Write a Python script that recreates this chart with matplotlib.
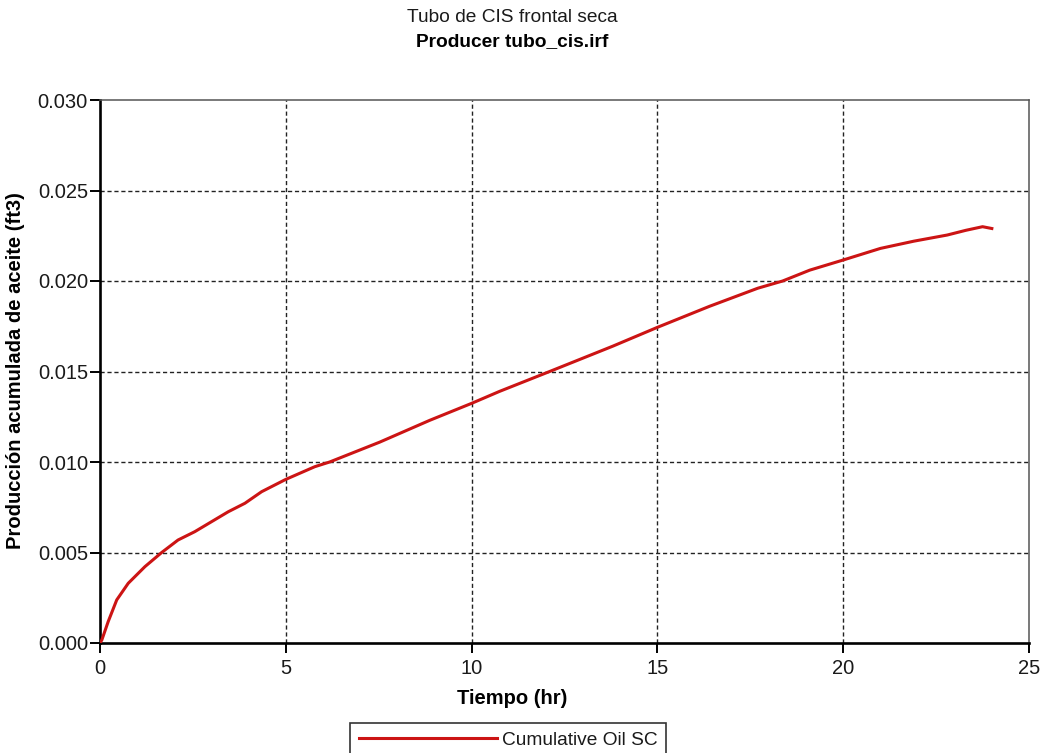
import matplotlib
matplotlib.use("Agg")
import matplotlib.pyplot as plt
import numpy as np

plt.rcParams['font.family'] = ['Liberation Sans', 'DejaVu Sans']

# Cumulative oil production vs. time
tiempo_hr = [0, 0.05, 0.22, 0.45, 0.76, 1.21, 1.66, 2.10, 2.55, 3.0, 3.45, 3.9,
             4.35, 5.0, 5.78, 6.18, 7.53, 8.87, 10.0, 10.75, 12.1, 13.8, 15.0,
             16.4, 17.7, 18.37, 19.1, 20.0, 21.0, 21.9, 22.8, 23.3, 23.75, 24.0]
cum_oil_ft3 = [0, 0.00017, 0.00118, 0.00238, 0.0033, 0.00422, 0.0050, 0.00569,
               0.00615, 0.0067, 0.00725, 0.00772, 0.00836, 0.00904, 0.00974,
               0.0100, 0.0111, 0.0123, 0.01324, 0.0139, 0.0150, 0.0164, 0.01744,
               0.0186, 0.0196, 0.0200, 0.0206, 0.02116, 0.0218, 0.0222, 0.02254,
               0.0228, 0.0230, 0.0229]

x_ticks = [0, 5, 10, 15, 20, 25]
y_ticks = [0.000, 0.005, 0.010, 0.015, 0.020, 0.025, 0.030]
series_name = "Cumulative Oil SC"

W, H = 1044, 753
fig = plt.figure(figsize=(W / 100, H / 100), dpi=100)
ax = fig.add_axes([100 / W, 1 - 643 / H, (1029 - 100) / W, (643 - 100) / H])

line, = ax.plot(tiempo_hr, cum_oil_ft3, color='#cc1414', lw=2.2,
                solid_joinstyle='round', zorder=3, label=series_name)

ax.set_xlim(0, 25)
ax.set_ylim(0, 0.030)
ax.set_xticks(x_ticks)
ax.set_yticks(y_ticks)
ax.set_xticklabels([str(v) for v in x_ticks])
ax.set_yticklabels([f"{v:.3f}" for v in y_ticks])

ax.tick_params(axis='both', which='major', direction='out', length=7.2,
               width=1.4, labelsize=14.5, colors='black', labelcolor='#1a1a1a')
ax.tick_params(axis='x', pad=4)
ax.tick_params(axis='y', pad=1.5)

for v in x_ticks[1:-1]:
    ax.axvline(v, color='#222222', lw=1.0, linestyle=(0, (3, 2)), zorder=1)
for v in y_ticks[1:-1]:
    ax.axhline(v, color='#222222', lw=1.0, linestyle=(0, (3, 2)), zorder=1)

for side in ('left', 'bottom'):
    ax.spines[side].set_linewidth(1.9)
    ax.spines[side].set_color('black')
for side in ('top', 'right'):
    ax.spines[side].set_linewidth(1.1)
    ax.spines[side].set_color('#555555')

fig.text(512 / W, 1 - 17 / H, "Tubo de CIS frontal seca", ha='center',
         va='center', fontsize=13.8, color='#1a1a1a')
fig.text(512 / W, 1 - 42 / H, "Producer tubo_cis.irf", ha='center',
         va='center', fontsize=13.8, fontweight='bold', color='black')
fig.text(512 / W, 1 - 698 / H, "Tiempo (hr)", ha='center', va='center',
         fontsize=14.5, fontweight='bold')
fig.text(16 / W, 1 - 371 / H, "Producción acumulada de aceite (ft3)",
         ha='center', va='center', rotation=90, fontsize=14.5,
         fontweight='bold')

leg = fig.legend(handles=[line], loc='upper left',
                 bbox_to_anchor=(350 / W, 1 - 722.7 / H), borderaxespad=0,
                 fontsize=13.8, handlelength=7.2, handletextpad=0.26,
                 borderpad=0.45, fancybox=False, frameon=True)
leg.get_frame().set_edgecolor('black')
leg.get_frame().set_linewidth(1.2)
for txt in leg.get_texts():
    txt.set_color('#1a1a1a')

fig.savefig("out.png", dpi=100)
